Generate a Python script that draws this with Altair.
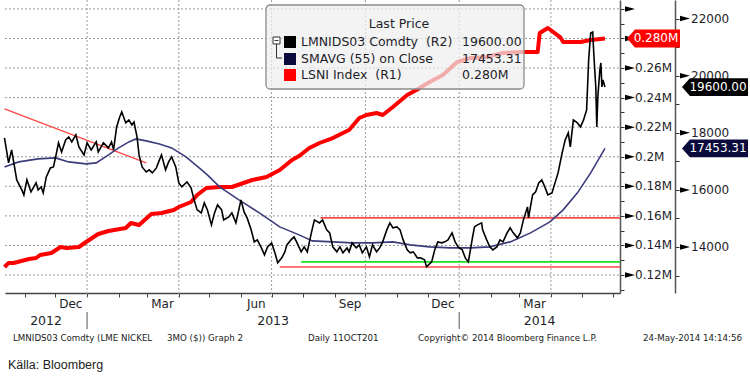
import altair as alt
import pandas as pd

# ---------------- data ----------------
START = pd.Timestamp("2012-10-12")          # day 0 of the day-offset lists

# LMNIDS03 Comdty (LME nickel 3M, USD/t), right axis R2
price_day = [0, 4, 7, 9, 12, 17, 19, 22, 26, 31, 33, 36, 38, 41, 45, 48, 50, 53, 56, 60,
             63, 66, 70, 73, 78, 81, 85, 90, 92, 97, 102, 105, 107, 110, 113, 115, 119, 122, 125, 127,
             130, 132, 135, 139, 142, 145, 149, 152, 154, 158, 161, 164, 168, 171, 174, 179, 183, 186, 189, 193,
             196, 199, 203, 206, 209, 213, 215, 220, 223, 227, 232, 235, 238, 242, 245, 248, 252, 255, 258, 262,
             265, 268, 272, 275, 277, 281, 284, 287, 291, 294, 297, 301, 304, 309, 312, 316, 319, 322, 326, 329,
             332, 336, 338, 341, 345, 348, 351, 355, 358, 361, 365, 368, 371, 375, 378, 381, 385, 388, 391, 395,
             398, 401, 405, 408, 412, 414, 419, 422, 425, 429, 432, 435, 439, 442, 445, 449, 452, 455, 457, 459,
             461, 464, 468, 469, 473, 476, 479, 483, 486, 489, 493, 496, 499, 503, 506, 509, 513, 514, 518, 521,
             524, 527, 530, 533, 537, 540, 543, 547, 550, 553, 555, 558, 562, 565, 568, 571, 573, 575, 577, 578,
             580, 581, 582, 584, 585, 586, 587, 589]
price_val = [17820, 16945, 17400, 16980, 16350, 16000, 15825, 16350, 15930, 16245, 16000, 16105, 15895, 16455, 16770, 16805, 17120, 17645, 17330, 17750,
             17855, 17680, 17925, 17505, 17225, 17645, 17400, 17680, 17330, 17645, 17470, 17680, 17400, 18205, 18555, 18730, 18345, 18450, 18275, 18380,
             17855, 17225, 16805, 16630, 16700, 16595, 16770, 17050, 17225, 16700, 16980, 17155, 16805, 16245, 16105, 16280, 16070, 15650, 15300, 15195,
             15545, 15300, 14775, 15195, 15475, 15300, 14950, 15055, 15195, 14845, 15650, 15230, 15020, 14600, 14180, 14250, 13970, 13725, 14005, 14145,
             13830, 13445, 13620, 13830, 14075, 14250, 14355, 14145, 13830, 14005, 13830, 14495, 14950, 14845, 14950, 14600, 14495, 14005, 13830, 14005,
             13795, 13970, 13830, 14145, 13970, 14075, 13795, 14005, 13655, 14075, 13830, 13970, 14180, 14600, 14845, 14670, 14705, 14600, 14250, 13900,
             13795, 13830, 13620, 13620, 13550, 13305, 13480, 13900, 14180, 14145, 14180, 14250, 14495, 14180, 14005, 13900, 13620, 13480, 13900, 14320,
             14705, 14775, 14845, 14600, 14250, 14005, 13900, 14005, 14250, 14180, 14495, 14670, 14495, 14320, 14495, 14950, 15405, 15020, 15825, 15930,
             16245, 16350, 16105, 15825, 15895, 16245, 16595, 17295, 17750, 17995, 17505, 18450, 18345, 18205, 18450, 18800, 20550, 21495, 21530, 20795,
             19605, 18200, 19255, 20200, 20445, 19605, 19850, 19600]

# SMAVG (55) on Close, right axis R2
sma_day = [0, 14, 33, 50, 63, 80, 90, 102, 112, 122, 129, 139, 152, 164, 178, 191, 199, 211, 230, 250,
           270, 289, 302, 322, 341, 361, 381, 398, 417, 437, 457, 476, 496, 516, 535, 548, 562, 575, 589]
sma_val = [16805, 16980, 17085, 17120, 16980, 16910, 16945, 17225, 17470, 17680, 17785, 17715, 17610, 17470, 17155, 16770, 16525, 16105, 15650, 15195,
           14705, 14425, 14215, 14180, 14145, 14145, 14180, 14075, 14005, 13970, 13970, 14005, 14180, 14495, 14880, 15300, 15895, 16595, 17453.31]

# LSNI Index (LME nickel stocks, tonnes), right axis R1
stock_day = [0, 4, 9, 24, 31, 35, 46, 55, 61, 73, 80, 92, 102, 119, 124, 132, 144, 154, 166, 171,
             183, 189, 198, 211, 223, 243, 257, 270, 282, 289, 299, 309, 322, 338, 348, 355, 365, 371, 381, 395,
             404, 417, 430, 444, 457, 473, 489, 506, 523, 525, 533, 545, 548, 565, 575, 589]
stock_val = [125410, 128120, 128120, 130820, 131500, 133530, 134880, 138940, 138270, 138940, 142320, 147740, 149770, 151800, 155180, 153830, 161270, 161940, 163970, 166000,
             169380, 174120, 178860, 179530, 179530, 184270, 186300, 191030, 197800, 200500, 205920, 209300, 212680, 218090, 226210, 228240, 229590, 228240, 233650, 241770,
             245150, 250560, 255300, 264090, 266800, 267480, 270180, 270860, 270860, 283720, 287100, 281000, 277620, 277620, 278970, 280000]

# drawn trend line and support/resistance levels (R2 units)
trend_day = [0, 139]
trend_val = [18835, 16945]
level_start_day = [310, 270, 291]
level_val = [15020, 13300, 13480]
level_color = ["#ff4a4a", "#ff4a4a", "#1fdc1f"]

# axis tick values
r1_major = [120000, 140000, 160000, 180000, 200000, 220000, 240000, 260000, 280000, 300000]
r1_labelled = [120000, 140000, 160000, 180000, 200000, 220000, 240000, 260000]
r1_ticks = [110000 + 10000 * i for i in range(20)]
r2_major = [14000, 16000, 18000, 20000, 22000]
r2_ticks = [13000 + 1000 * i for i in range(10)]
grid_dates = ["2013-01-01", "2013-04-01", "2013-07-01", "2013-10-01", "2014-01-01", "2014-04-01"]
month_labels = ["Dec", "Mar", "Jun", "Sep", "Dec", "Mar"]
month_dates = ["2012-12-16", "2013-03-16", "2013-06-16", "2013-09-16", "2013-12-16", "2014-03-16"]
year_labels = ["2012", "2013", "2014"]
year_breaks = ["2013-01-01", "2014-01-01"]

legend_title = "Last Price"
legend_labels = ["LMNIDS03 Comdty\u00a0\u00a0(R2)", "SMAVG (55) on Close", "LSNI Index\u00a0\u00a0(R1)"]
footer_texts = ["LMNIDS03 Comdty (LME NICKEL", "3MO ($)) Graph 2", "Daily 11OCT201",
                "Copyright\u00a9 2014 Bloomberg Finance L.P.", "24-May-2014 14:14:56"]
source_text = "K\u00e4lla: Bloomberg"

# ---------------- helpers ----------------
X_START = pd.Timestamp("2012-10-12 12:00")
X_END = pd.Timestamp("2014-06-07 18:00")


def to_dates(days):
    return [START + pd.Timedelta(days=int(d)) for d in days]


def fmt_m(v):
    return f"{v / 1e6:.2f}".rstrip("0") + "M"


price_df = pd.DataFrame({"date": to_dates(price_day), "v": price_val})
sma_df = pd.DataFrame({"date": to_dates(sma_day), "v": sma_val})
stock_df = pd.DataFrame({"date": to_dates(stock_day), "v": stock_val})
trend_df = pd.DataFrame({"date": to_dates(trend_day), "v": trend_val})
level_df = pd.DataFrame({"date": to_dates(level_start_day), "end": [X_END] * 3,
                         "v": level_val, "c": level_color})
vgrid_df = pd.DataFrame({"date": pd.to_datetime(grid_dates)})
one = pd.DataFrame({"a": [0]})

FONT = "DejaVu Sans"
LBL = "#1e1e2a"

xscale = alt.Scale(domain=[alt.DateTime(year=2012, month=10, date=12, hours=12),
                           alt.DateTime(year=2014, month=6, date=7, hours=18)])
xaxis = alt.Axis(title=None, labels=False, grid=False,
                 tickCount=alt.TimeIntervalStep(interval="month", step=1),
                 tickSize=4, tickColor="#444444", tickWidth=1,
                 domainColor="#444444", domainWidth=1.5)
R2 = alt.Scale(domain=[12390, 22648], nice=False, zero=False)
R1 = alt.Scale(domain=[107823, 306045], nice=False, zero=False)


def X(field="date"):
    return alt.X(f"{field}:T", scale=xscale, axis=xaxis)


def text_at(s, x, y, size, font=FONT, color=LBL, align="left"):
    return alt.Chart(pd.DataFrame({"t": [s]})).mark_text(
        align=align, baseline="middle", fontSize=size, font=font, color=color
    ).encode(x=alt.value(x), y=alt.value(y), text="t:N")


layers = []

# grid
layers.append(alt.Chart(pd.DataFrame({"v": r1_major})).mark_rule(
    strokeDash=[2, 2], color="#9a9a9a", strokeWidth=1
).encode(y=alt.Y("v:Q", scale=R1, axis=None), x=alt.value(0), x2=alt.value(615)))
layers.append(alt.Chart(vgrid_df).mark_rule(
    strokeDash=[2, 2], color="#9a9a9a", strokeWidth=1
).encode(x=X(), y=alt.value(0), y2=alt.value(297)))

# levels and trend line
layers.append(alt.Chart(level_df).mark_rule(strokeWidth=1.6).encode(
    x=X(), x2="end:T", y=alt.Y("v:Q", scale=R2, axis=None),
    color=alt.Color("c:N", scale=None)))
layers.append(alt.Chart(trend_df).mark_line(color="#ff4a4a", strokeWidth=1.5).encode(
    x=X(), y=alt.Y("v:Q", scale=R2, axis=None)))

# LSNI stocks (R1 axis: ticks and domain)
r1_axis = alt.Axis(orient="right", offset=0, title=None, grid=False, values=r1_ticks,
                   labels=False, tickSize=4, tickColor="#333333",
                   domainColor="#555555", domainWidth=1.5)
layers.append(alt.Chart(stock_df).mark_line(color="#ff0000", strokeWidth=4, strokeJoin="round").encode(
    x=X(), y=alt.Y("v:Q", scale=R1, axis=r1_axis)))

# SMA
layers.append(alt.Chart(sma_df).mark_line(color="#3c3c7c", strokeWidth=1.6).encode(
    x=X(), y=alt.Y("v:Q", scale=R2, axis=None)))

# price (R2 axis: ticks and domain)
r2_axis = alt.Axis(orient="right", offset=55, title=None, grid=False, values=r2_ticks,
                   labels=False, tickSize=4, tickColor="#333333",
                   domainColor="#555555", domainWidth=1.5)
layers.append(alt.Chart(price_df).mark_line(color="#000000", strokeWidth=1.6).encode(
    x=X(), y=alt.Y("v:Q", scale=R2, axis=r2_axis)))

# axis labels as text marks positioned through the scales
layers.append(alt.Chart(pd.DataFrame({"v": r1_labelled, "t": [fmt_m(v) for v in r1_labelled]})).mark_text(
    align="left", baseline="middle", fontSize=12, font=FONT, color=LBL
).encode(x=alt.value(630), y=alt.Y("v:Q", scale=R1, axis=None), text="t:N"))
layers.append(alt.Chart(pd.DataFrame({"v": r2_major, "t": [str(v) for v in r2_major]})).mark_text(
    align="left", baseline="middle", fontSize=12, font=FONT, color=LBL
).encode(x=alt.value(686), y=alt.Y("v:Q", scale=R2, axis=None), text="t:N"))

# legend box
layers.append(alt.Chart(one).mark_rect(cornerRadius=4, fill="#eeeeee", fillOpacity=0.72,
                                       stroke="#8c8c8c", strokeWidth=1.3).encode(
    x=alt.value(261), x2=alt.value(519), y=alt.value(5), y2=alt.value(89)))
layers.append(text_at(legend_title, 394, 24, 12.5, align="center"))
legend_values = [f"{price_val[-1]:.2f}", f"{sma_val[-1]:.2f}", f"{stock_val[-1] / 1e6:.3f}M"]
swatch_colors = ["#000000", "#0a0a3c", "#ff0000"]
row_y = [42, 59, 75]
for lab, val, col, ry in zip(legend_labels, legend_values, swatch_colors, row_y):
    layers.append(alt.Chart(one).mark_rect(color=col).encode(
        x=alt.value(279), x2=alt.value(291), y=alt.value(ry - 6), y2=alt.value(ry + 6)))
    layers.append(text_at(lab, 296, ry, 12.5))
    layers.append(text_at(val, 457, ry, 12.5))
# small tree icon
layers.append(alt.Chart(one).mark_rect(fill="#ffffff", stroke="#333333", strokeWidth=1).encode(
    x=alt.value(268), x2=alt.value(275), y=alt.value(37), y2=alt.value(44)))
layers.append(alt.Chart(one).mark_rule(color="#333333", strokeWidth=1).encode(
    x=alt.value(269.5), x2=alt.value(273.5), y=alt.value(40.5), y2=alt.value(40.5)))
layers.append(alt.Chart(one).mark_rule(color="#333333", strokeWidth=1).encode(
    x=alt.value(271.5), x2=alt.value(271.5), y=alt.value(44), y2=alt.value(58)))
layers.append(alt.Chart(one).mark_rule(color="#333333", strokeWidth=1).encode(
    x=alt.value(271.5), x2=alt.value(277), y=alt.value(58), y2=alt.value(58)))

# triangle tick markers
TRI = "M -1 -0.55 L 1 0 L -1 0.55 Z"
layers.append(alt.Chart(pd.DataFrame({"v": r1_major})).mark_point(
    shape=TRI, filled=True, size=100, color="#000000", opacity=1, strokeWidth=0
).encode(x=alt.value(625), y=alt.Y("v:Q", scale=R1, axis=None)))
layers.append(alt.Chart(pd.DataFrame({"v": r2_major})).mark_point(
    shape=TRI, filled=True, size=100, color="#000000", opacity=1, strokeWidth=0
).encode(x=alt.value(680), y=alt.Y("v:Q", scale=R2, axis=None)))

# last-value flags
FLAG_R = "M -1 0 L -0.7 -0.34 L 1 -0.34 L 1 0.34 L -0.7 0.34 Z"
FLAG_B = "M -1 0 L -0.76 -0.27 L 1 -0.27 L 1 0.27 L -0.76 0.27 Z"
flags = [
    (stock_val[-1], R1, FLAG_R, 2809, 648.5, 651, "#ff0000", legend_values[2]),
    (price_val[-1], R2, FLAG_B, 4356, 710, 713, "#000000", legend_values[0]),
    (sma_val[-1], R2, FLAG_B, 4356, 710, 713, "#0a0a3c", legend_values[1]),
]
for v, sc, path, sz, cx, tx, col, lab in flags:
    fd = pd.DataFrame({"v": [v], "t": [lab]})
    layers.append(alt.Chart(fd).mark_point(shape=path, filled=True, size=sz, color=col,
                                           opacity=1, strokeWidth=0).encode(
        x=alt.value(cx), y=alt.Y("v:Q", scale=sc, axis=None)))
    layers.append(alt.Chart(fd).mark_text(align="center", baseline="middle", fontSize=12,
                                          font=FONT, color="#ffffff").encode(
        x=alt.value(tx), y=alt.Y("v:Q", scale=sc, axis=None), text="t:N"))

# month / year labels under the time axis
layers.append(alt.Chart(pd.DataFrame({"date": pd.to_datetime(month_dates), "t": month_labels})).mark_text(
    align="center", baseline="middle", fontSize=12, font=FONT, color=LBL
).encode(x=X(), y=alt.value(304), text="t:N"))
year_mid = [X_START + (pd.Timestamp(year_breaks[0]) - X_START) / 2,
            pd.Timestamp(year_breaks[0]) + (pd.Timestamp(year_breaks[1]) - pd.Timestamp(year_breaks[0])) / 2,
            pd.Timestamp(year_breaks[1]) + (X_END - pd.Timestamp(year_breaks[1])) / 2]
layers.append(alt.Chart(pd.DataFrame({"date": year_mid, "t": year_labels})).mark_text(
    align="center", baseline="middle", fontSize=12.5, font=FONT, color=LBL
).encode(x=X(), y=alt.value(321), text="t:N"))
layers.append(alt.Chart(pd.DataFrame({"date": pd.to_datetime(year_breaks)})).mark_rule(
    color="#555555", strokeWidth=1
).encode(x=X(), y=alt.value(312), y2=alt.value(329)))

# footer
for s, x in zip(footer_texts, [8, 162, 303, 413, 638]):
    layers.append(text_at(s, x, 338, 8.7, color="#222222"))
layers.append(text_at(source_text, 3, 365, 12.5, font="Liberation Sans", color="#222222"))

chart = alt.layer(*layers).resolve_scale(y="independent").properties(
    width=615, height=293,
    padding={"left": 5, "top": 0, "right": 130, "bottom": 83},
    autosize=alt.AutoSizeParams(type="none"),
    background="white",
).configure_view(strokeWidth=0)

chart.save("out.html", embed_options={"renderer": "svg", "actions": False})
